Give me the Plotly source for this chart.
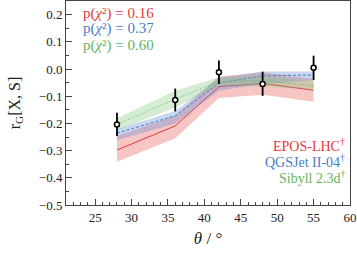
import plotly.graph_objects as go

theta = [28, 36, 42, 48, 55]

data_y = [-0.204, -0.114, -0.012, -0.055, 0.005]
data_err_up = [0.043, 0.042, 0.043, 0.045, 0.044]
data_err_dn = [0.042, 0.042, 0.043, 0.044, 0.045]

epos_mid = [-0.298, -0.209, -0.065, -0.053, -0.078]
epos_lo = [-0.341, -0.255, -0.107, -0.095, -0.120]
epos_hi = [-0.246, -0.172, -0.028, -0.012, -0.037]

qgs_mid = [-0.236, -0.172, -0.052, -0.025, -0.022]
qgs_lo = [-0.262, -0.200, -0.080, -0.055, -0.041]
qgs_hi = [-0.221, -0.154, -0.033, -0.009, -0.009]

sib_mid = [-0.203, -0.111, -0.046, -0.043, -0.062]
sib_lo = [-0.225, -0.142, -0.060, -0.065, -0.075]
sib_hi = [-0.181, -0.080, -0.030, -0.025, -0.045]

models = [
    ("EPOS-LHC", epos_mid, epos_lo, epos_hi, "#e23a3a", "rgba(236,90,90,0.35)", "solid", "0.16"),
    ("QGSJet II-04", qgs_mid, qgs_lo, qgs_hi, "#4a7cc4", "rgba(95,140,210,0.35)", "3px,2px", "0.37"),
    ("Sibyll 2.3d", sib_mid, sib_lo, sib_hi, "#62b462", "rgba(120,195,120,0.32)", "1px,2px", "0.60"),
]

fig = go.Figure()
for name, mid, lo, hi, lc, fc, dash, p in models:
    fig.add_trace(go.Scatter(x=theta + theta[::-1], y=hi + lo[::-1], fill="toself",
                             fillcolor=fc, line=dict(width=0), mode="lines",
                             hoverinfo="skip", showlegend=False))
    fig.add_trace(go.Scatter(x=theta, y=mid, mode="lines",
                             line=dict(color=lc, width=1, dash=dash), showlegend=False))

fig.add_trace(go.Scatter(
    x=theta, y=data_y, mode="markers",
    marker=dict(symbol="circle", size=5, color="white", line=dict(color="black", width=1.5)),
    error_y=dict(type="data", symmetric=False, array=data_err_up, arrayminus=data_err_dn,
                 color="black", thickness=1.8, width=0),
    showlegend=False))

font = "Liberation Serif, Times New Roman, serif"
axis_common = dict(showline=True, linecolor="#444", linewidth=1, mirror=True,
                   ticks="inside", ticklen=6, tickcolor="#444", tickwidth=1,
                   showgrid=False, zeroline=False, automargin=False,
                   tickfont=dict(family=font, size=13, color="#222"))

fig.update_xaxes(range=[21, 60], dtick=5, tick0=0,
                 minor=dict(ticks="inside", ticklen=3, dtick=1, tickcolor="#444", showgrid=False),
                 title=dict(text="<i>θ</i> / °", font=dict(family=font, size=17, color="#222"), standoff=8),
                 **axis_common)
fig.update_yaxes(range=[-0.5, 0.25], dtick=0.1, tick0=0, tickformat=".1f",
                 minor=dict(ticks="inside", ticklen=3, dtick=0.05, tickcolor="#444", showgrid=False),
                 title=dict(text="r<sub>G</sub>[X, S]", font=dict(family=font, size=16, color="#222"), standoff=14),
                 **axis_common)

annots = []
py = [0.941, 0.863, 0.784]
ly = [0.294, 0.217, 0.139]
for i, (name, mid, lo, hi, lc, fc, dash, p) in enumerate(models):
    annots.append(dict(x=0.055, y=py[i], xref="paper", yref="paper", xanchor="left", yanchor="middle",
                       text=f"p(<i>χ</i>²) = {p}", showarrow=False, borderpad=0,
                       font=dict(family=font, size=15, color=lc)))
    annots.append(dict(x=0.985, y=ly[i], xref="paper", yref="paper", xanchor="right", yanchor="middle",
                       text=f"{name}<sup>†</sup>", showarrow=False, borderpad=0,
                       font=dict(family=font, size=14, color=lc)))

fig.update_layout(width=357, height=255, margin=dict(l=66, r=7, t=1, b=50),
                  plot_bgcolor="white", paper_bgcolor="white",
                  annotations=annots, showlegend=False)
fig.write_html("out.html", config={"displayModeBar": False},
               post_script="document.body.style.margin='0';document.body.style.overflow='hidden';")
